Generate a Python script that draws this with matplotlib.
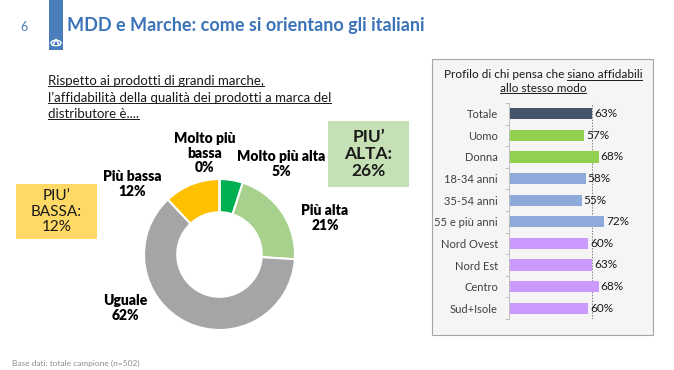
import numpy as np
import matplotlib
matplotlib.use("Agg")
import matplotlib.pyplot as plt
from matplotlib.patches import Rectangle, Circle, Polygon

# donut data
slice_labels = ["Molto più alta", "Più alta", "Uguale", "Più bassa", "Molto più bassa"]
slice_values = [5, 21, 62, 12, 0]
slice_colors = ["#00b050", "#a9d18e", "#a5a5a5", "#ffc000", "#ffc000"]

# bar panel data
groups = ["Totale", "Uomo", "Donna", "18-34 anni", "35-54 anni", "55 e più anni",
          "Nord Ovest", "Nord Est", "Centro", "Sud+Isole"]
group_values = [63, 57, 68, 58, 55, 72, 60, 63, 68, 60]
group_colors = ["#44546a", "#92d050", "#92d050", "#8eaadb", "#8eaadb", "#8eaadb",
                "#cc99ff", "#cc99ff", "#cc99ff", "#cc99ff"]
total_value = 63

W, H = 674, 370
FONT = "Lato"


def fx(x):
    return x / W


def fy(y):
    return 1 - y / H


def main():
    fig = plt.figure(figsize=(W / 100, H / 100), dpi=100)
    fig.patch.set_facecolor("white")
    plt.rcParams["font.family"] = [FONT, "DejaVu Sans"]

    # header
    fig.text(fx(20), fy(27), "6", color="#4a7ebb", fontsize=9, va="center", ha="left")
    fig.patches.append(Rectangle((fx(49), fy(50)), fx(14), 50 / H, transform=fig.transFigure,
                                 facecolor="#4a7ebb", edgecolor="none"))
    fig.patches.append(Circle((fx(56), fy(43)), 5 / W, transform=fig.transFigure,
                              facecolor="none", edgecolor="white", lw=1))
    fig.patches.append(Polygon([(fx(52.5), fy(46)), (fx(56), fy(39)), (fx(59.5), fy(46))],
                               closed=False, transform=fig.transFigure,
                               facecolor="none", edgecolor="white", lw=1))
    fig.text(fx(67), fy(26), "MDD e Marche: come si orientano gli italiani",
             color="#3b73b9", fontsize=13, fontweight="bold", va="center", ha="left")

    renderer = fig.canvas.get_renderer()

    def underline_bbox(bb, color):
        yl = bb.y0 + 1
        fig.add_artist(plt.Line2D([bb.x0 / W, bb.x1 / W], [yl / H, yl / H],
                                  transform=fig.transFigure, color=color, lw=0.7))

    def underlined(x, y, s, **kw):
        t = fig.text(fx(x), fy(y), s, **kw)
        underline_bbox(t.get_window_extent(renderer=renderer), kw.get("color", "black"))
        return t

    # question
    q_lines = ["Rispetto ai prodotti di grandi marche,",
               "l’affidabilità della qualità dei prodotti a marca del",
               "distributore è...."]
    for i, line in enumerate(q_lines):
        underlined(48, 81 + i * 16.5, line, fontsize=9.5, color="#1a1a1a", va="center", ha="left")

    # donut
    cx, cy, R = 219.5, 254.5, 77
    ax = fig.add_axes([fx(cx - R), fy(cy + R), 2 * R / W, 2 * R / H])
    ax.pie(slice_values, colors=slice_colors, startangle=90, counterclock=False,
           radius=1, wedgeprops=dict(width=0.44, edgecolor="white", linewidth=1.5))
    ax.set_xlim(-1.02, 1.02)
    ax.set_ylim(-1.02, 1.02)
    ax.set_aspect("equal")
    ax.axis("off")

    lab = dict(fontsize=10, fontweight="heavy", color="black", ha="center", va="center",
               linespacing=1.1)
    fig.text(fx(205), fy(153), "Molto più\nbassa\n0%", **lab)
    fig.text(fx(281), fy(164), "Molto più alta\n5%", **lab)
    fig.text(fx(132), fy(184), "Più bassa\n12%", **lab)
    fig.text(fx(325), fy(218), "Più alta\n21%", **lab)
    fig.text(fx(125), fy(308), "Uguale\n62%", **lab)

    # summary boxes
    fig.patches.append(Rectangle((fx(16), fy(239)), 81 / W, 55 / H, transform=fig.transFigure,
                                 facecolor="#ffd966", edgecolor="none"))
    fig.text(fx(56.5), fy(211.5), "PIU’\nBASSA:\n12%", fontsize=11, color="#1a1a1a",
             ha="center", va="center", linespacing=1.1)
    fig.patches.append(Rectangle((fx(328), fy(187)), 81 / W, 66 / H, transform=fig.transFigure,
                                 facecolor="#c5e0b4", edgecolor="none"))
    fig.text(fx(368.5), fy(154), "PIU’\nALTA:\n26%", fontsize=12.5, fontweight="bold",
             color="#1a1a1a", ha="center", va="center", linespacing=1.1)

    # profile panel
    fig.patches.append(Rectangle((fx(432), fy(335)), 221 / W, 276 / H, transform=fig.transFigure,
                                 facecolor="#f5f5f5", edgecolor="#a6a6a6", lw=0.8, zorder=-1))
    ptitle = "Profilo di chi pensa che siano affidabili"
    t1 = fig.text(fx(543), fy(75), ptitle, fontsize=8.5, color="#1a1a1a",
                  ha="center", va="center")
    b1 = t1.get_window_extent(renderer=renderer)
    tmp = fig.text(0, 0, "siano affidabili", fontsize=8.5)
    b2 = tmp.get_window_extent(renderer=renderer)
    tmp.remove()
    b_under = b1.frozen()
    b_under.x0 = b1.x1 - b2.width
    underline_bbox(b_under, "#1a1a1a")
    underlined(543, 88.5, "allo stesso modo", fontsize=8.5, color="#1a1a1a", ha="center", va="center")

    bx = fig.add_axes([fx(509), fy(319), 132 / W, 216 / H])
    bx.set_zorder(2)
    bx.patch.set_alpha(0)
    ypos = np.arange(len(groups))
    bx.barh(ypos, group_values, height=0.52, color=group_colors)
    bx.axvline(total_value, color="#7f7f7f", lw=0.7, ls=(0, (1.5, 1.5)), zorder=0)
    for yv, v in zip(ypos, group_values):
        bx.text(v + 1.5, yv, f"{v}%", fontsize=8.5, color="#1a1a1a", va="center", ha="left")
    bx.set_xlim(0, 100)
    bx.set_ylim(len(groups) - 0.5, -0.5)
    bx.set_yticks(ypos)
    bx.set_yticklabels(groups, fontsize=8, color="#404040")
    bx.set_yticks(np.arange(len(groups) + 1) - 0.5, minor=True)
    bx.tick_params(axis="y", which="major", length=0, pad=8)
    bx.tick_params(axis="y", which="minor", length=3, color="#bfbfbf", width=0.7)
    bx.set_xticks([])
    for s in ["top", "right", "bottom"]:
        bx.spines[s].set_visible(False)
    bx.spines["left"].set_color("#bfbfbf")
    bx.spines["left"].set_linewidth(0.7)

    # footer
    fig.text(fx(12), fy(363), "Base dati: totale campione (n=502)", fontsize=6,
             color="#8c8c8c", ha="left", va="center")

    fig.savefig("out.png", dpi=100, facecolor="white")


if __name__ == '__main__':
    main()
